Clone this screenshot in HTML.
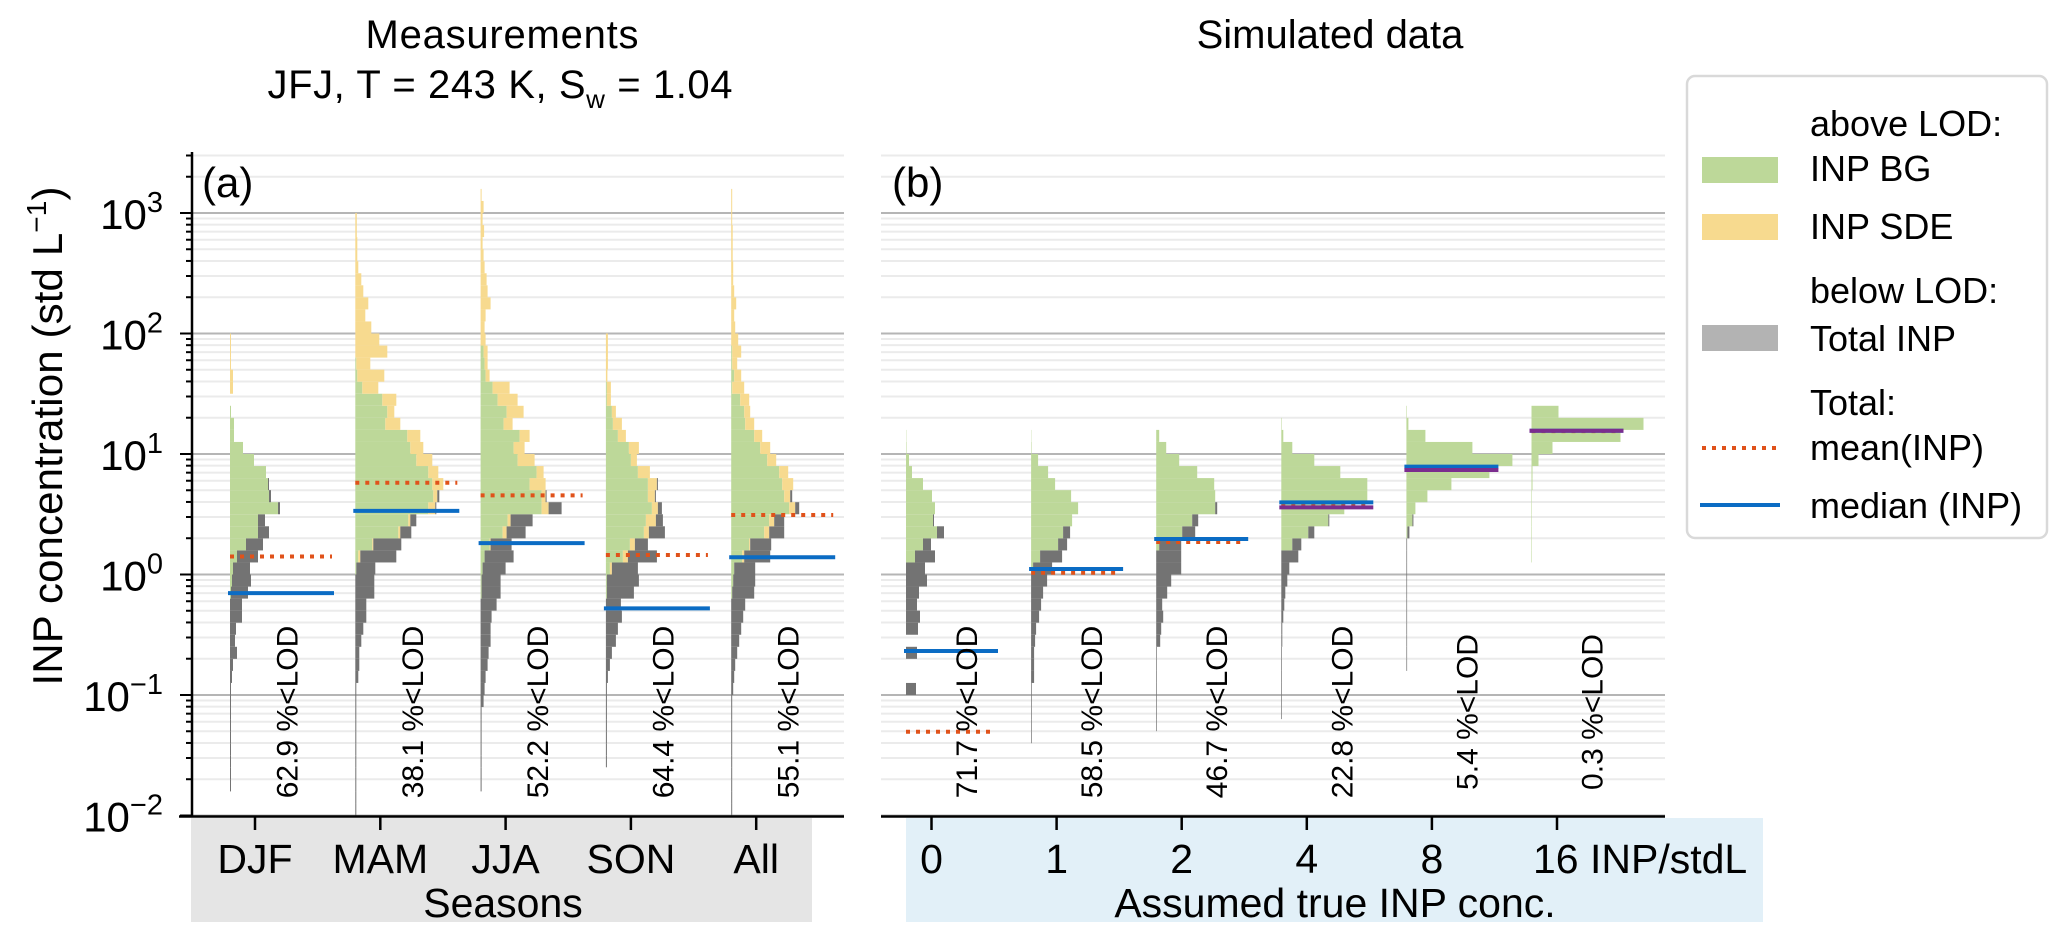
<!DOCTYPE html>
<html><head><meta charset="utf-8"><title>INP concentration histograms</title>
<style>html,body{margin:0;padding:0;background:#fff}svg{display:block;font-family:"Liberation Sans",Arial,sans-serif}</style>
</head><body>
<svg id="chart" xmlns="http://www.w3.org/2000/svg" width="2067" height="940" viewBox="0 0 2067 940">
<rect x="191" y="818" width="621" height="104" fill="#e5e5e5"/>
<rect x="906" y="818" width="857" height="104" fill="#e2f0f8"/>
<g id="grid"></g>
<g id="bars"></g>
<g id="lines"></g>
<g id="labels"></g>
<g id="axes"></g>
<text x="502" y="48" font-size="40" text-anchor="middle" textLength="273">Measurements</text>
<text x="500" y="98" font-size="40" text-anchor="middle" textLength="465">JFJ, T = 243 K, S<tspan font-size="26" dy="10">w</tspan><tspan dy="-10"> = 1.04</tspan></text>
<text x="1330" y="48" font-size="40" text-anchor="middle">Simulated data</text>
<text transform="translate(62,436) rotate(-90)" font-size="42" text-anchor="middle" textLength="499">INP concentration (std L<tspan font-size="28" dy="-16">−1</tspan><tspan dy="16">)</tspan></text>
<text x="202" y="197" font-size="42">(a)</text>
<text x="892" y="197" font-size="42">(b)</text>
<text x="503" y="917" font-size="41" text-anchor="middle">Seasons</text>
<text x="1335" y="917" font-size="41" text-anchor="middle">Assumed true INP conc.</text>
<g>
<rect x="1687" y="76" width="360" height="462" rx="8" fill="#fff" stroke="#d9d9d9" stroke-width="2.5"/>
<text x="1810" y="136" font-size="36">above LOD:</text>
<rect x="1702" y="157" width="76" height="26" fill="#bdd899"/>
<text x="1810" y="181" font-size="36">INP BG</text>
<rect x="1702" y="214" width="76" height="26" fill="#f7da8f"/>
<text x="1810" y="239" font-size="36">INP SDE</text>
<text x="1810" y="303" font-size="36">below LOD:</text>
<rect x="1702" y="325" width="76" height="26" fill="#b3b3b3"/>
<text x="1810" y="351" font-size="36">Total INP</text>
<text x="1810" y="415" font-size="36">Total:</text>
<line x1="1702" y1="448" x2="1778" y2="448" stroke="#e0521a" stroke-width="4" stroke-dasharray="4 6"/>
<text x="1810" y="460" font-size="36">mean(INP)</text>
<line x1="1700" y1="505" x2="1780" y2="505" stroke="#0b6cc4" stroke-width="4"/>
<text x="1810" y="518" font-size="36">median (INP)</text>
</g>
</svg>
<script>
// ---------- data (bins: index i covers log10 from -2+0.1*i to -2+0.1*(i+1)) ----------
const seasonCats = ["DJF","MAM","JJA","SON","All"];
const seasonLOD = ["62.9","38.1","52.2","64.4","55.1"];
const seasonMedian = [0.70, 3.37, 1.82, 0.524, 1.39];
const seasonMean = [1.41, 5.78, 4.54, 1.45, 3.12];

const djfGray = [0,0,1,1,1,1,1,1,1,1, 1,2,3,7,5,6,12,12,17,19, 17,21,17,11,7,2,2,1];
const djfGreen = [0,0,0,0,0,0,0,0,0,0, 0,0,0,0,0,0,0,0,1,2, 3,7,16,28,28,48,39,38,36,24, 13,4,4,1];
const djfYellow = [0,0,0,0,0,0,0,0,0,0, 0,0,0,0,0,0,0,0,0,0, 0,0,0,0,0,0,0,0,0,0, 0,0,0,0,0,3,3,1,1,1];

const mamGray = [1,1,1,1,1,1,1,1,1,1, 1,3,4,4,6,8,11,11,19,19, 19,36,28,11,6,1,2];
const mamGreen = [0,0,0,0,0,0,0,0,0,0, 0,0,0,0,0,0,0,0,0,0, 1,3,17,43,53,73,78,77,73,61, 55,52,30,32,27,7,2,1];
const mamYellow = [0,0,0,0,0,0,0,0,0,0, 0,0,0,0,0,0,0,0,0,0, 0,2,1,2,2,7,4,11,10,16, 13,13,15,7,14,16,27,14,32,24, 16,10,13,8,6,3,2,2,1.5,1.5];

const jjaGray = [0,0,1,1,1,1,1,1,1,3, 4,5,7,8,10,10,11,16,19,19, 23,29,21,19,22,13,1];
const jjaGreen = [0,0,0,0,0,0,0,0,0,0, 0,0,0,0,0,0,0,0,1,1, 2,4,9,22,27,61,61,49,56,37, 33,39,23,26,17,12,5,4,3];
const jjaYellow = [0,0,0,0,0,0,0,0,0,0, 0,0,0,0,0,0,0,0,0,0, 0,0,1,4,3,7,4,16,7,17, 11,10,9,17,20,17,4,3,4,5, 4,5,10,7,6,4,3,2,3.5,2, 3,1];

const sonGray = [0,0,0,0,1,1,1,1,1,1, 1,2,4,6,10,12,16,15,27,32, 26,29,13,16,7,4,1,1];
const sonGreen = [0,0,0,0,0,0,0,0,0,0, 0,0,0,0,0,0,0,0,1,1, 4,17,24,38,40,46,42,42,32,25, 23,12,7,6,1,1];
const sonYellow = [0,0,0,0,0,0,0,0,0,0, 0,0,0,0,0,0,0,0,0,0, 2,5,5,5,10,6,7,9,12,6, 10,8,9,4,4,4,1.5,2,2,2];

const allGray = [1,1,1,1,1,1,1,1,1,1, 2,3,4,6,8,10,12,14,22,22, 21,26,21,15,10,4,2];
const allGreen = [0,0,0,0,0,0,0,0,0,0, 0,0,0,0,0,0,0,0,1,2, 3,11,18,33,38,58,53,51,48,36, 29,23,14,13,9,1,3,1,1];
const allYellow = [0,0,0,0,0,0,0,0,0,0, 0,0,0,0,0,0,0,0,0,0, 0,2,1,5,5,6,6,11,9,9, 10,8,9,6,9,12,7,5,9,7, 4,3,5,3,2,2,1.5,1.5,1.5,1, 1,1];

const simCats = ["0","1","2","4","8","16 INP/stdL"];
const simLOD = ["71.7","58.5","46.7","22.8","5.4","0.3"];
const simMedian = [0.232, 1.11, 1.97, 3.97, 7.85, 15.6];
const simMean = [0.0496, 1.035, 1.86, 3.8, 7.6, 15.5];
const simMode = [null, null, null, 3.61, 7.37, 15.6];

const s0Gray = [0,0,0,0,0,0,0,0,0,0, 10,0,0,11,0,12,14,11,13,21, 19,20,8,7,1];
const s0Green = [0,0,0,0,0,0,0,0,0,0, 0,0,0,0,0,0,0,0,0,0, 0,9,17,31,27,29,26,17,6,3, 0.5,0.3];
const s1Gray = [0,0,0,0,0,0,0.7,0.7,0.7,0.7, 0.7,3,3,3,4,5,8,10,12,16, 19,22,9,7];
const s1Green = [0,0,0,0,0,0,0,0,0,0, 0,0,0,0,0,0,0,0,0,0, 2,9,27,32,41,47,40,24,17,7, 0.5,0.3];
const s2Gray = [0,0,0,0,0,0,0,0.7,0.7,0.7, 0.7,0.7,0.7,0.7,4,5,7,6,11,15, 25,25,22,13,6,2];
const s2Green = [0,0,0,0,0,0,0,0,0,0, 0,0,0,0,0,0,0,0,0,0, 0,0,3,26,36,59,59,58,41,23, 10,3];
const s3Gray = [0,0,0,0,0,0,0,0,0.7,0.7, 0.7,0.7,0.7,0.7,1,1,2,3,4,6, 8,17,9,6,1];
const s3Green = [0,0,0,0,0,0,0,0,0,0, 0,0,0,0,0,0,0,0,0,0, 0,0,11,27,47,63,86,86,59,33, 11,2,0.5];
const s4Gray = [0,0,0,0,0,0,0,0,0,0, 0,0,0.7,0.7,0.7,0.7,0.7,0.7,0.7,0.7, 0.7,0.7,0.7,2,1];
const s4Green = [0,0,0,0,0,0,0,0,0,0, 0,0,0,0,0,0,0,0,0,0, 0,0,0,1,6,9,21,45,83,106, 66,19,2,0.5];
const s5Gray = [];
const s5Green = [0,0,0,0,0,0,0,0,0,0, 0,0,0,0,0,0,0,0,0,0, 0,0.5,0.5,0.5,0.5,0.5,0.5,1,1,7, 21,89,112,27];

const seasonGreen = [djfGreen, mamGreen, jjaGreen, sonGreen, allGreen];
const seasonYellow = [djfYellow, mamYellow, jjaYellow, sonYellow, allYellow];
const seasonGray = [djfGray, mamGray, jjaGray, sonGray, allGray];
const simGreen = [s0Green, s1Green, s2Green, s3Green, s4Green, s5Green];
const simGray = [s0Gray, s1Gray, s2Gray, s3Gray, s4Gray, s5Gray];

const yMinorMax = 3.506;

// ---------- scales ----------
const NS = "http://www.w3.org/2000/svg";
function yScale(v){ return 574.5 - 120.5*Math.log10(v); }
function yLog(l){ return 574.5 - 120.5*l; }
function xTickA(k){ return 255 + 125.3*k; }
function xTickB(k){ return 931.5 + 125.1*k; }
const FREQ_PX = 1;
function mk(tag, attrs, parent){
  const e = document.createElementNS(NS, tag);
  for (const k in attrs) e.setAttribute(k, attrs[k]);
  parent.appendChild(e);
  return e;
}
const gGrid = document.getElementById('grid');
const gBars = document.getElementById('bars');
const gLines = document.getElementById('lines');
const gLab = document.getElementById('labels');
const gAx = document.getElementById('axes');

// ---------- grid ----------
const panels = [[192,844],[881,1665]];
for (let d=-2; d<=3; d++){
  for (let m=1; m<=9; m++){
    const l = d + Math.log10(m);
    if (l > yMinorMax) continue;
    const y = yLog(l);
    for (const p of panels){
      const ln = mk('line',{x1:p[0],x2:p[1],y1:y,y2:y,stroke:(m===1?'#b5b5b5':'#ebebeb'),'stroke-width':2}, gGrid);
      
      
    }
    const tk = mk('line',{x1:192-(m===1?12:6),x2:192,y1:y,y2:y,stroke:'#000','stroke-width':2}, gAx);
    
    
  }
}
for (let d=-2; d<=3; d++){
  const t = mk('text',{x:163,y:yLog(d)+16,'font-size':42,'text-anchor':'end'}, gAx);
  
  
  t.appendChild(document.createTextNode('10'));
  const sp = mk('tspan',{'font-size':29,dy:-17}, t);
  sp.textContent = (d<0 ? '−'+(-d) : ''+d);
}

// ---------- bars ----------
function drawHist(base, green, yellow, gray, name){
  const n = Math.max(green.length, yellow.length, gray.length);
  for (let i=0; i<n; i++){
    const yt = yLog(-2 + 0.1*(i+1)), yb = yLog(-2 + 0.1*i);
    let x = base;
    const parts = [[green[i]||0,'#bdd899','bg'],[yellow[i]||0,'#f7da8f','sde'],[gray[i]||0,'#737373','below-lod']];
    for (const p of parts){
      if (p[0] <= 0) continue;
      const r = mk('rect',{x:x,y:yt,width:p[0]*FREQ_PX,height:yb-yt,fill:p[1]}, gBars);
      
      
      x += p[0]*FREQ_PX;
    }
  }
}
function drawStat(x1, x2, v, kind){
  const y = yScale(v);
  const a = {x1:x1,x2:x2,y1:y,y2:y,'stroke-width':4};
  if (kind==='mean'){ a.stroke='#e0521a'; a['stroke-dasharray']='4 6'; }
  else if (kind==='mode'){ a.stroke='#7b2d8e'; }
  else { a.stroke='#0b6cc4'; }
  const l = mk('line', a, gLines);
  
  
}
function lodText(x, txt){
  const t = mk('text',{transform:'translate('+x+',712) rotate(-90)','font-size':30,'text-anchor':'middle','dominant-baseline':'central'}, gLab);
  
  
  t.textContent = txt + ' %<LOD';
}
function xTick(x){
  const l = mk('line',{x1:x,x2:x,y1:816,y2:830,stroke:'#000','stroke-width':2.5}, gAx);
  
  
}

seasonCats.forEach((c,k)=>{
  const tx = xTickA(k), base = tx - 25;
  drawHist(base, seasonGreen[k], seasonYellow[k], seasonGray[k], c.toLowerCase());
  drawStat(base, base+102, seasonMean[k], 'mean');
  drawStat(base-2, base+104, seasonMedian[k], 'median');
  lodText(tx+33, seasonLOD[k]);
  xTick(tx);
  const t = mk('text',{x:tx,y:873,'font-size':41,'text-anchor':'middle'}, gAx);
  
  
  t.textContent = c;
});
simCats.forEach((c,k)=>{
  const tx = xTickB(k), base = tx - 25.5;
  drawHist(base, simGreen[k], [], simGray[k], 'sim-' + k);
  drawStat(base, base+88, simMean[k], 'mean');
  drawStat(base-2, base+92, simMedian[k], 'median');
  if (simMode[k] !== null) drawStat(base-2, base+92, simMode[k], 'mode');
  lodText(tx+36, simLOD[k]);
  xTick(tx);
  const t = mk('text',{x:(k===simCats.length-1? tx-24 : tx),y:873,'font-size':41,'text-anchor':(k===simCats.length-1?'start':'middle')}, gAx);
  
  
  t.textContent = c;
});

// ---------- spines ----------
const sp1 = mk('line',{x1:192,x2:192,y1:152,y2:817,stroke:'#000','stroke-width':2.5}, gAx);


const sp2 = mk('line',{x1:179,x2:844,y1:816.5,y2:816.5,stroke:'#000','stroke-width':2.5}, gAx);


const sp3 = mk('line',{x1:881,x2:1665,y1:816.5,y2:816.5,stroke:'#000','stroke-width':2.5}, gAx);


</script>
</body></html>
